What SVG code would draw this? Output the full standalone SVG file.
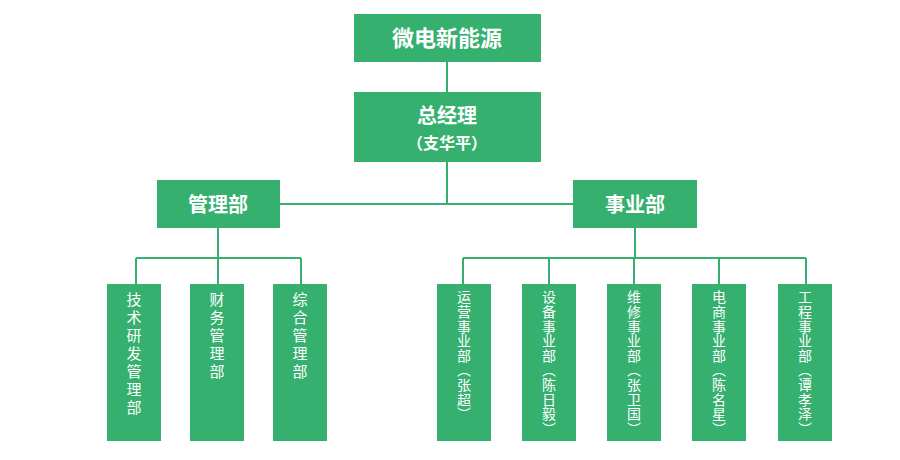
<svg xmlns="http://www.w3.org/2000/svg" width="900" height="460" viewBox="0 0 900 460">
<style>
.b{fill:#35b06f}
.l{stroke:#35b06f;stroke-width:2;fill:none}
.t{fill:#fff;font-family:"Noto Sans CJK SC",sans-serif;font-weight:bold;text-anchor:middle}
.v{fill:#fff;font-family:"Noto Sans CJK SC",sans-serif;font-size:15px;writing-mode:vertical-rl;letter-spacing:3px}
.w{fill:#fff;font-family:"Noto Sans CJK SC",sans-serif;font-size:14px;writing-mode:vertical-rl;letter-spacing:0.6px}
</style>
<rect width="900" height="460" fill="#fff"/>
<g id="connectors" class="l">
<path d="M447 62V92M447 162V204M280 204H573"/>
<path d="M218 228V258M136 258H301M136 258V284M218 258V284M301 258V284"/>
<path d="M635 228V258M463 258H806M463 258V284M549 258V284M634 258V284M719 258V284M806 258V284"/>
</g>
<g id="n0"><rect class="b" x="354" y="14" width="187" height="48"/><text class="t" x="447" y="46" font-size="22">微电新能源</text></g>
<g id="n1"><rect class="b" x="354" y="92" width="187" height="70"/><text class="t" x="447" y="123" font-size="20">总经理</text><text class="t" x="447" y="149" font-size="16" font-weight="normal">（支华平）</text></g>
<g id="n2"><rect class="b" x="157" y="180" width="123" height="48"/><text class="t" x="218" y="212" font-size="20">管理部</text></g>
<g id="n3"><rect class="b" x="573" y="180" width="124" height="48"/><text class="t" x="635" y="212" font-size="20">事业部</text></g>
<g id="a1"><rect class="b" x="107" y="284" width="54" height="157"/><text class="v" x="134" y="292">技术研发管理部</text></g>
<g id="a2"><rect class="b" x="190" y="284" width="54" height="157"/><text class="v" x="217" y="292">财务管理部</text></g>
<g id="a3"><rect class="b" x="273" y="284" width="54" height="157"/><text class="v" x="300" y="292">综合管理部</text></g>
<g id="b1"><rect class="b" x="437" y="284" width="54" height="157"/><text class="w" x="464" y="290">运营事业部（张超）</text></g>
<g id="b2"><rect class="b" x="522" y="284" width="54" height="157"/><text class="w" x="549" y="290">设备事业部（陈日毅）</text></g>
<g id="b3"><rect class="b" x="607" y="284" width="54" height="157"/><text class="w" x="634" y="290">维修事业部（张卫国）</text></g>
<g id="b4"><rect class="b" x="692" y="284" width="54" height="157"/><text class="w" x="719" y="290">电商事业部（陈名星）</text></g>
<g id="b5"><rect class="b" x="778" y="284" width="54" height="157"/><text class="w" x="805" y="290">工程事业部（谭孝泽）</text></g>
</svg>
